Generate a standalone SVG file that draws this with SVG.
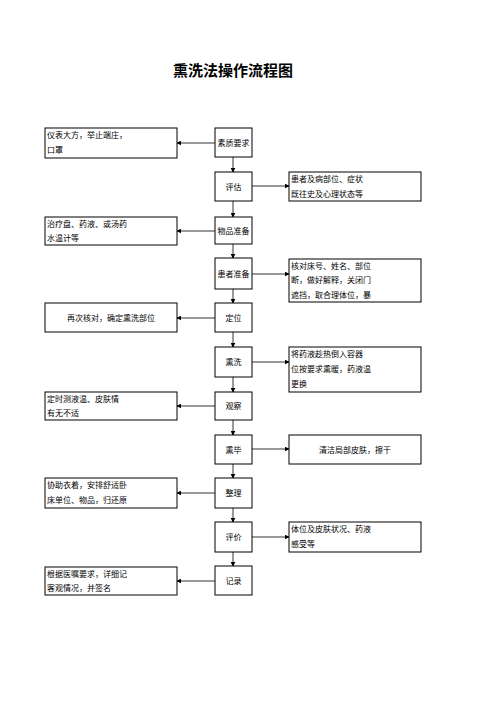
<svg xmlns="http://www.w3.org/2000/svg" width="496" height="702" viewBox="0 0 496 702">
<style>
.box{fill:#fff;stroke:#000;stroke-width:1}
.t{font-family:"Noto Sans CJK SC","Noto Sans",sans-serif;font-size:8px;fill:#000}
.c{text-anchor:middle}
.ttl{font-family:"Noto Sans CJK SC","Noto Sans",sans-serif;font-size:15px;font-weight:bold;text-anchor:middle}
.ln{stroke:#333;stroke-width:1;fill:none;marker-end:url(#ah)}
</style>
<defs>
<marker id="ah" viewBox="0 0 8 8" refX="7" refY="4" markerWidth="5" markerHeight="5" orient="auto" markerUnits="userSpaceOnUse"><path d="M0,0L8,4L0,8z" fill="#000"/></marker>
</defs>
<text class="ttl" x="233" y="76">熏洗法操作流程图</text>
<g id="connectors">
<line class="ln" x1="233" y1="157" x2="233" y2="172"/>
<line class="ln" x1="233" y1="201" x2="233" y2="217"/>
<line class="ln" x1="233" y1="244" x2="233" y2="258"/>
<line class="ln" x1="233" y1="289" x2="233" y2="303"/>
<line class="ln" x1="233" y1="332" x2="233" y2="347"/>
<line class="ln" x1="233" y1="377" x2="233" y2="392"/>
<line class="ln" x1="233" y1="420" x2="233" y2="435"/>
<line class="ln" x1="233" y1="464" x2="233" y2="478"/>
<line class="ln" x1="233" y1="508" x2="233" y2="522"/>
<line class="ln" x1="233" y1="552" x2="233" y2="566"/>
<line class="ln" x1="215" y1="143" x2="177" y2="143"/>
<line class="ln" x1="215" y1="231" x2="177" y2="231"/>
<line class="ln" x1="215" y1="318" x2="177" y2="318"/>
<line class="ln" x1="215" y1="406" x2="177" y2="406"/>
<line class="ln" x1="215" y1="493" x2="177" y2="493"/>
<line class="ln" x1="215" y1="581" x2="177" y2="581"/>
<line class="ln" x1="252" y1="186" x2="289" y2="186"/>
<line class="ln" x1="252" y1="274" x2="289" y2="274"/>
<line class="ln" x1="252" y1="362" x2="289" y2="362"/>
<line class="ln" x1="252" y1="449" x2="289" y2="449"/>
<line class="ln" x1="252" y1="537" x2="289" y2="537"/>
</g>
<g id="n1"><rect class="box" x="215" y="128" width="37" height="29"/><text class="t c" x="233.5" y="145.5">素质要求</text></g>
<g id="n2"><rect class="box" x="215" y="172" width="37" height="29"/><text class="t c" x="233.5" y="189.5">评估</text></g>
<g id="n3"><rect class="box" x="215" y="217" width="37" height="27"/><text class="t c" x="233.5" y="233.5">物品准备</text></g>
<g id="n4"><rect class="box" x="215" y="258" width="37" height="31"/><text class="t c" x="233.5" y="276.5">患者准备</text></g>
<g id="n5"><rect class="box" x="215" y="303" width="37" height="29"/><text class="t c" x="233.5" y="320.5">定位</text></g>
<g id="n6"><rect class="box" x="215" y="347" width="37" height="30"/><text class="t c" x="233.5" y="364.5">熏洗</text></g>
<g id="n7"><rect class="box" x="215" y="392" width="37" height="28"/><text class="t c" x="233.5" y="408.5">观察</text></g>
<g id="n8"><rect class="box" x="215" y="435" width="37" height="29"/><text class="t c" x="233.5" y="452.5">熏毕</text></g>
<g id="n9"><rect class="box" x="215" y="478" width="37" height="30"/><text class="t c" x="233.5" y="495.5">整理</text></g>
<g id="n10"><rect class="box" x="215" y="522" width="37" height="30"/><text class="t c" x="233.5" y="539.5">评价</text></g>
<g id="n11"><rect class="box" x="215" y="566" width="37" height="29"/><text class="t c" x="233.5" y="583.5">记录</text></g>
<g id="l1"><rect class="box" x="45" y="128" width="132" height="30"/><text class="t" x="47" y="138.4">仪表大方，举止端庄，</text><text class="t" x="47" y="153.4">口罩</text></g>
<g id="l2"><rect class="box" x="45" y="217" width="132" height="28"/><text class="t" x="47" y="226.9">治疗盘、药液、或汤药</text><text class="t" x="47" y="240.9">水温计等</text></g>
<g id="l3"><rect class="box" x="45" y="303" width="132" height="29"/><text class="t c" x="111" y="320.5">再次核对，确定熏洗部位</text></g>
<g id="l4"><rect class="box" x="45" y="392" width="132" height="28"/><text class="t" x="47" y="401.9">定时测液温、皮肤情</text><text class="t" x="47" y="415.9">有无不适</text></g>
<g id="l5"><rect class="box" x="45" y="478" width="132" height="30"/><text class="t" x="47" y="488.4">协助衣着，安排舒适卧</text><text class="t" x="47" y="503.4">床单位、物品，归还原</text></g>
<g id="l6"><rect class="box" x="45" y="567" width="132" height="28"/><text class="t" x="47" y="576.9">根据医嘱要求，详细记</text><text class="t" x="47" y="590.9">客观情况，并签名</text></g>
<g id="r1"><rect class="box" x="289" y="172" width="132" height="29"/><text class="t" x="291" y="182.2">患者及病部位、症状</text><text class="t" x="291" y="196.7">既往史及心理状态等</text></g>
<g id="r2"><rect class="box" x="289" y="259" width="132" height="43"/><text class="t" x="291" y="269.1">核对床号、姓名、部位</text><text class="t" x="291" y="283.4">断，做好解释，关闭门</text><text class="t" x="291" y="297.7">遮挡，取合理体位，暴</text></g>
<g id="r3"><rect class="box" x="289" y="347" width="132" height="45"/><text class="t" x="291" y="357.4">将药液趁热倒入容器</text><text class="t" x="291" y="372.4">位按要求熏暖，药液温</text><text class="t" x="291" y="387.4">更换</text></g>
<g id="r4"><rect class="box" x="289" y="435" width="132" height="29"/><text class="t c" x="355" y="452.5">清洁局部皮肤，擦干</text></g>
<g id="r5"><rect class="box" x="289" y="522" width="132" height="30"/><text class="t" x="291" y="532.4">体位及皮肤状况、药液</text><text class="t" x="291" y="547.4">感受等</text></g>
</svg>
